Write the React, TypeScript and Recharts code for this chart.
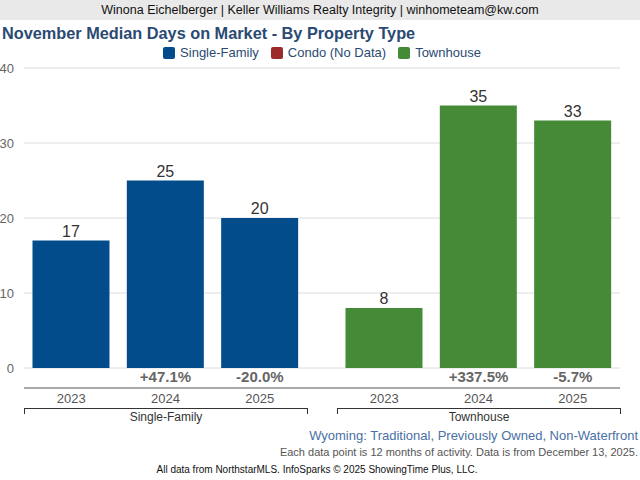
import React from 'react';
import {
  BarChart,
  Bar,
  XAxis,
  YAxis,
  CartesianGrid,
  LabelList
} from 'recharts';

const years = ['2023', '2024', '2025'];
const singleFamily = [17, 25, 20];
const townhouse = [8, 35, 33];
const singleFamilyChange = ['', '+47.1%', '-20.0%'];
const townhouseChange = ['', '+337.5%', '-5.7%'];
const yTicks = [0, 10, 20, 30, 40];

const legendItems = [
  { name: 'Single-Family', color: '#034c8c' },
  { name: 'Condo (No Data)', color: '#9c2a2a' },
  { name: 'Townhouse', color: '#458b37' }
];

const font = '"Liberation Sans", Arial, sans-serif';
const sfData = years.map((year, i) => ({ year, value: singleFamily[i], change: singleFamilyChange[i] }));
const thData = years.map((year, i) => ({ year, value: townhouse[i], change: townhouseChange[i] }));

const PLOT_H = 300;
const CHART_H = 8 + PLOT_H + 20 + 21;

function GroupChart({ data, color, width, withAxis, padding, margin }: any) {
  return (
    <BarChart
      width={width}
      height={CHART_H}
      data={data}
      margin={margin}
      barCategoryGap="9%"
      style={{ fontFamily: font }}
    >
      <CartesianGrid vertical={false} stroke="#dcdcdc" />
      <YAxis
        hide={!withAxis}
        width={24}
        domain={[0, 40]}
        ticks={yTicks}
        tickLine={false}
        axisLine={false}
        tick={{ fill: '#666', fontSize: 13 }}
        tickMargin={4}
      />
      <XAxis
        xAxisId="pct"
        dataKey="change"
        height={20}
        padding={padding}
        tickLine={false}
        axisLine={false}
        tickSize={0}
        tickMargin={3}
        interval={0}
        tick={{ fill: '#666', fontSize: 15, fontWeight: 700 }}
      />
      <XAxis
        xAxisId="yr"
        dataKey="year"
        height={21}
        padding={padding}
        tickLine={false}
        axisLine={{ stroke: '#555' }}
        tickSize={0}
        tickMargin={6}
        interval={0}
        tick={{ fill: '#555', fontSize: 13 }}
      />
      <Bar xAxisId="pct" dataKey="value" fill={color} isAnimationActive={false}>
        <LabelList dataKey="value" position="top" fill="#333" fontSize={16} offset={4} />
      </Bar>
    </BarChart>
  );
}

function Bracket({ left, width, label }: any) {
  return (
    <>
      <div
        style={{
          position: 'absolute',
          left,
          top: 408,
          width: width - 2,
          height: 5,
          borderTop: '1px solid #333',
          borderLeft: '1px solid #333',
          borderRight: '1px solid #333'
        }}
      />
      <div
        style={{
          position: 'absolute',
          left,
          top: 410,
          width,
          textAlign: 'center',
          fontSize: 12,
          color: '#333'
        }}
      >
        {label}
      </div>
    </>
  );
}

export default function App() {
  return (
    <div
      style={{
        position: 'absolute',
        left: 0,
        top: 0,
        width: 640,
        height: 480,
        background: '#fff',
        fontFamily: font,
        overflow: 'hidden'
      }}
    >
      <div
        style={{
          height: 20,
          background: '#e9e9e9',
          textAlign: 'center',
          fontSize: 12.5,
          lineHeight: '20px',
          color: '#111'
        }}
      >
        Winona Eichelberger | Keller Williams Realty Integrity | winhometeam@kw.com
      </div>
      <div
        style={{
          position: 'absolute',
          left: 2,
          top: 24,
          fontSize: 16.3,
          fontWeight: 700,
          color: '#2a4a72'
        }}
      >
        November Median Days on Market - By Property Type
      </div>
      <div
        style={{
          position: 'absolute',
          left: 2,
          top: 45,
          width: 640,
          display: 'flex',
          justifyContent: 'center',
          gap: 12,
          fontSize: 13,
          color: '#2a4a72'
        }}
      >
        {legendItems.map((item) => (
          <div key={item.name} style={{ display: 'flex', alignItems: 'center', gap: 5 }}>
            <span
              style={{
                display: 'inline-block',
                width: 12,
                height: 12,
                borderRadius: 2,
                background: item.color
              }}
            />
            {item.name}
          </div>
        ))}
      </div>

      <div style={{ position: 'absolute', left: 0, top: 60 }}>
        <GroupChart
          data={sfData}
          color="#034c8c"
          width={322}
          withAxis
          padding={{ left: 0, right: 15 }}
          margin={{ top: 8, right: 0, bottom: 0, left: 0 }}
        />
      </div>
      <div style={{ position: 'absolute', left: 322, top: 60 }}>
        <GroupChart
          data={thData}
          color="#458b37"
          width={318}
          withAxis={false}
          padding={{ left: 15, right: 0 }}
          margin={{ top: 8, right: 20, bottom: 0, left: 0 }}
        />
      </div>

      <Bracket left={24} width={284} label="Single-Family" />
      <Bracket left={337} width={284} label="Townhouse" />

      <div
        style={{
          position: 'absolute',
          right: 2,
          top: 428,
          fontSize: 13,
          color: '#4a70a5'
        }}
      >
        Wyoming: Traditional, Previously Owned, Non-Waterfront
      </div>
      <div
        style={{
          position: 'absolute',
          right: 2,
          top: 446,
          fontSize: 11,
          color: '#555'
        }}
      >
        Each data point is 12 months of activity. Data is from December 13, 2025.
      </div>
      <div
        style={{
          position: 'absolute',
          left: 0,
          top: 464,
          width: 634,
          textAlign: 'center',
          fontSize: 10,
          color: '#111'
        }}
      >
        All data from NorthstarMLS. InfoSparks © 2025 ShowingTime Plus, LLC.
      </div>
    </div>
  );
}
